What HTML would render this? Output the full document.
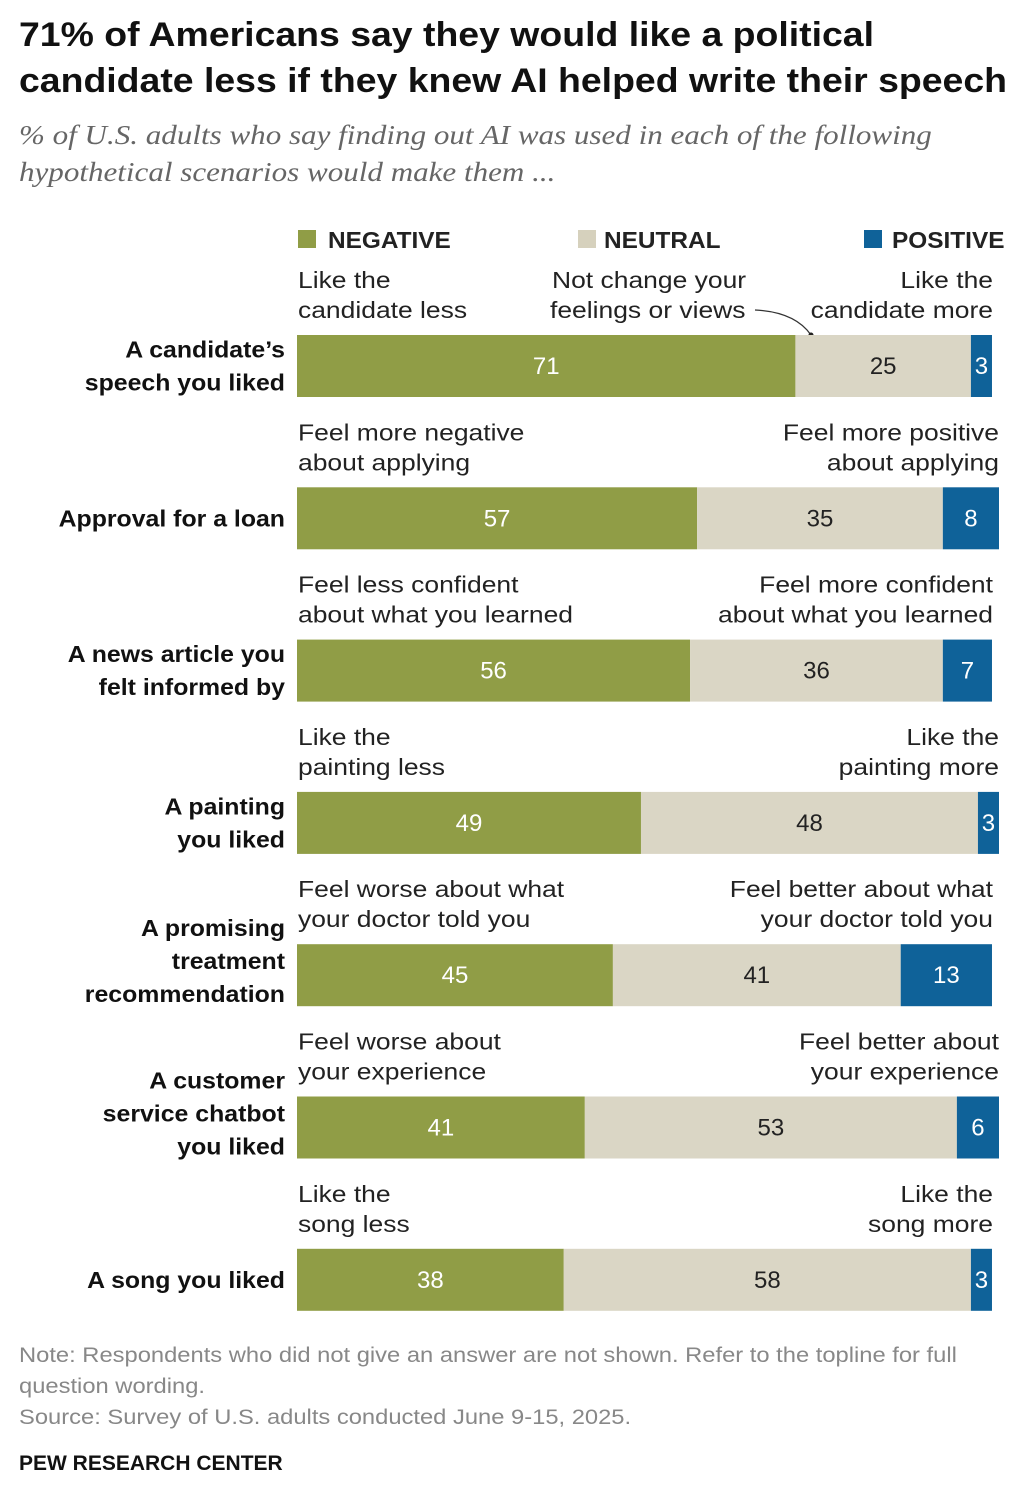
<!DOCTYPE html>
<html><head><meta charset="utf-8"><style>
body{margin:0;background:#fff;width:1030px;height:1496px;overflow:hidden;font-family:"Liberation Sans",sans-serif}
</style></head><body>
<svg width="1030" height="1496" xmlns="http://www.w3.org/2000/svg">
<text data-sx="1.1" x="19" y="46" font-size="34" font-weight="bold" fill="#111">71% of Americans say they would like a political</text>
<text data-sx="1.1" x="19" y="92" font-size="34" font-weight="bold" fill="#111">candidate less if they knew AI helped write their speech</text>
<text data-sx="1.15" x="19" y="144" font-size="27" font-style="italic" font-family="Liberation Serif,serif" fill="#666">% of U.S. adults who say finding out AI was used in each of the following</text>
<text data-sx="1.15" x="19" y="181" font-size="27" font-style="italic" font-family="Liberation Serif,serif" fill="#666">hypothetical scenarios would make them ...</text>
<g>
<rect x="298" y="230" width="18" height="18" fill="#909d46"/>
<text data-sx="1.06" x="328" y="248" font-size="23" font-weight="bold" fill="#222">NEGATIVE</text>
<rect x="578" y="230" width="18" height="18" fill="#d6d1bd"/>
<text data-sx="1.06" x="604" y="248" font-size="23" font-weight="bold" fill="#222">NEUTRAL</text>
<rect x="864" y="230" width="18" height="18" fill="#0f6299"/>
<text data-sx="1.06" x="892" y="248" font-size="23" font-weight="bold" fill="#222">POSITIVE</text>
</g>
<text data-sx="1.15" x="552" y="288" font-size="23" fill="#222">Not change your</text>
<text data-sx="1.15" x="550" y="318" font-size="23" fill="#222">feelings or views</text>
<path d="M755 310 Q795 312 811 335" fill="none" stroke="#333" stroke-width="1.3"/>
<circle cx="811" cy="335" r="2.5" fill="#222"/>
<g id="bars"></g>
<text data-sx="1.13" x="19" y="1362" font-size="21" fill="#888">Note: Respondents who did not give an answer are not shown. Refer to the topline for full</text>
<text data-sx="1.13" x="19" y="1393" font-size="21" fill="#888">question wording.</text>
<text data-sx="1.13" x="19" y="1424" font-size="21" fill="#888">Source: Survey of U.S. adults conducted June 9-15, 2025.</text>
<text x="19" y="1470" font-size="21" font-weight="bold" fill="#111">PEW RESEARCH CENTER</text>
</svg>
<script>
const categories=[["A candidate’s","speech you liked"],["Approval for a loan"],["A news article you","felt informed by"],["A painting","you liked"],["A promising","treatment","recommendation"],["A customer","service chatbot","you liked"],["A song you liked"]];
const negative=[71,57,56,49,45,41,38];
const neutral=[25,35,36,48,41,53,58];
const positive=[3,8,7,3,13,6,3];
const leftNotes=[["Like the","candidate less"],["Feel more negative","about applying"],["Feel less confident","about what you learned"],["Like the","painting less"],["Feel worse about what","your doctor told you"],["Feel worse about","your experience"],["Like the","song less"]];
const rightNotes=[["Like the","candidate more"],["Feel more positive","about applying"],["Feel more confident","about what you learned"],["Like the","painting more"],["Feel better about what","your doctor told you"],["Feel better about","your experience"],["Like the","song more"]];
const NS="http://www.w3.org/2000/svg";
const g=document.getElementById('bars');
const x0=297,unit=7.02,barH=62,rowY=i=>335+i*152.3;
const xs=v=>x0+v*unit;
function mk(tag,attrs,txt){const e=document.createElementNS(NS,tag);for(const k in attrs)e.setAttribute(k,attrs[k]);if(txt!==undefined)e.textContent=txt;g.appendChild(e);return e;}
for(let i=0;i<categories.length;i++){
  const y=rowY(i),segs=[[negative[i],'#909d46','#fff','negative'],[neutral[i],'#dad6c5','#222','neutral'],[positive[i],'#0f6299','#fff','positive']];
  let acc=0;
  for(const [v,c,tc,nm] of segs){
    const r=mk('rect',{x:xs(acc),y:y,width:v*unit,height:barH,fill:c});
    
    
    const t=mk('text',{x:xs(acc+v/2),y:y+39,'font-size':24,fill:tc,'text-anchor':'middle'},String(v));
    
    
    acc+=v;
  }
  const end=xs(acc);
  const cl=categories[i],cy=y+barH/2-(cl.length===3?14:0);
  cl.forEach((s,j)=>{
    const t=mk('text',{x:285,y:cy+(j-(cl.length-1)/2)*33+8,'font-size':23,'font-weight':'bold',fill:'#111','text-anchor':'end','data-sx':'1.08'},s);
    
    
  });
  leftNotes[i].forEach((s,j)=>{
    const t=mk('text',{x:298,y:y-47+j*30,'font-size':23,fill:'#222','data-sx':'1.15'},s);
    
    
  });
  rightNotes[i].forEach((s,j)=>{
    const t=mk('text',{x:Math.max(end,993),y:y-47+j*30,'font-size':23,fill:'#222','text-anchor':'end','data-sx':'1.15'},s);
    
    
  });
}
document.querySelectorAll('text[data-sx]').forEach(t=>{
  const L=t.getComputedTextLength()*parseFloat(t.getAttribute('data-sx'));
  t.setAttribute('textLength',L.toFixed(1));
  t.setAttribute('lengthAdjust','spacingAndGlyphs');
});
</script>
</body></html>
